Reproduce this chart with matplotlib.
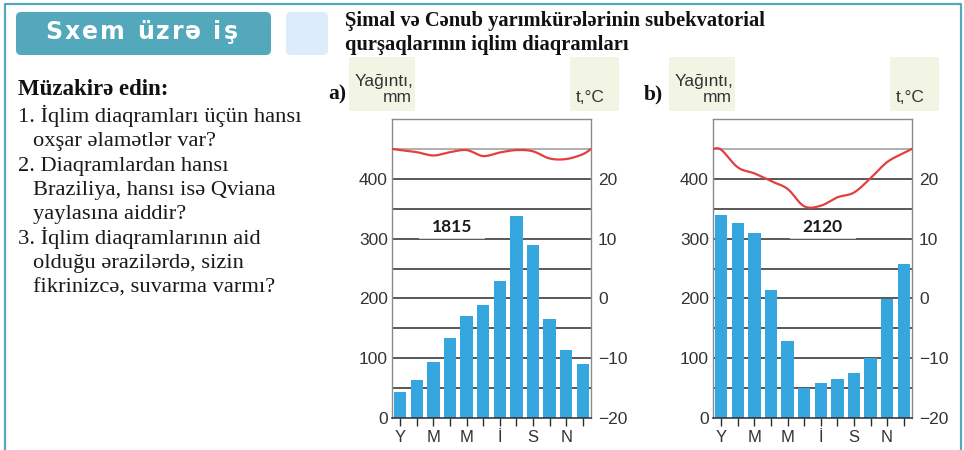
import numpy as np
import matplotlib
matplotlib.use('Agg')
import matplotlib.pyplot as plt
from matplotlib.patches import FancyBboxPatch, Rectangle
from matplotlib.lines import Line2D

# ---------------------------------------------------------------------------
# Data: monthly precipitation (mm) and temperature (°C)
# ---------------------------------------------------------------------------
month_labels = ['Y', 'M', 'M', 'İ', 'S', 'N']   # Jan, Mar, May, Jul, Sep, Nov

precip_a = [43, 64, 94, 134, 171, 189, 229, 337, 289, 166, 113, 91]
temp_a = [24.8, 24.45, 23.9, 24.45, 24.8, 23.8, 24.4, 24.8, 24.6, 23.4, 23.3, 24.1]
temp_a_edge = 25.0
total_a = '1815'

precip_b = [339, 326, 309, 214, 129, 50, 59, 66, 76, 101, 199, 257]
temp_b = [24.85, 21.9, 20.9, 19.6, 18.3, 15.4, 15.5, 16.9, 17.7, 20.1, 22.8, 24.3]
temp_b_edge = 25.0
total_b = '2120'

W, H = 964, 450
SERIF = ['Liberation Serif', 'DejaVu Serif']
SANS = ['Liberation Sans', 'DejaVu Sans']
TEAL = '#53a9bb'
BAR = '#35a7de'
RED = '#e1403f'
INK = '#333333'


def fx(x):
    return x / W


def fy(y):
    return 1 - y / H


def catmull_rom(px, py, steps=16):
    """Smooth curve through the given points (Catmull-Rom)."""
    P = np.column_stack([px, py]).astype(float)
    P = np.vstack([P[0], P, P[-1]])
    t = np.linspace(0, 1, steps, endpoint=False)[:, None]
    out = []
    for i in range(1, len(P) - 2):
        p0, p1, p2, p3 = P[i - 1], P[i], P[i + 1], P[i + 2]
        seg = 0.5 * (2 * p1 + (-p0 + p2) * t
                     + (2 * p0 - 5 * p1 + 4 * p2 - p3) * t ** 2
                     + (-p0 + 3 * p1 - 3 * p2 + p3) * t ** 3)
        out.append(seg)
    out.append(P[-2][None, :])
    arr = np.vstack(out)
    return arr[:, 0], arr[:, 1]


def box_px(fig, x0, y0, x1, y1, color, rounding=0.0):
    # rectangle given in pixel coords from the top-left corner
    style = f'round,pad=0,rounding_size={rounding}' if rounding else 'square,pad=0'
    p = FancyBboxPatch((x0 / 100, (H - y1) / 100), (x1 - x0) / 100, (y1 - y0) / 100,
                       boxstyle=style, transform=fig.dpi_scale_trans,
                       facecolor=color, edgecolor='none', zorder=0)
    fig.patches.append(p)


def spaced_text(fig, x, y, s, spacing, size, **kw):
    r = fig.canvas.get_renderer()
    for ch in s:
        if ch == ' ':
            x += size * 1.39 * 0.32 + spacing
            continue
        t = fig.text(fx(x), fy(y), ch, fontsize=size, **kw)
        x += t.get_window_extent(r).width + spacing


def climate_panel(fig, left_px, precip, temp, edge, total, box_x):
    ax = fig.add_axes([fx(left_px), fy(418), 199 / W, 299 / H])
    ax.set_xlim(0, 12)
    ax.set_ylim(0, 500)
    x = np.arange(12) + 0.5

    for lvl in range(50, 451, 50):
        ax.axhline(lvl, color='#9a9a9a' if lvl == 450 else '#2b2b2b', lw=1.1, zorder=1)
    ax.bar(x, precip, width=0.74, color=BAR, zorder=2)

    ax.add_patch(Rectangle((box_x[0], 300), box_x[1] - box_x[0], 42,
                           facecolor='white', alpha=0.75, edgecolor='none', zorder=1.5))
    ax.text(sum(box_x) / 2, 320, total, ha='center', va='center', fontsize=12.5,
            fontweight='bold', family=['Lato', 'DejaVu Sans'], color='#1a1a1a', zorder=3)

    for side in ('left', 'right', 'top'):
        ax.spines[side].set_color('#8a8a8a')
        ax.spines[side].set_linewidth(1.0)
    ax.spines['bottom'].set_color('#2b2b2b')
    ax.spines['bottom'].set_linewidth(1.1)

    ax.set_yticks(range(0, 401, 100))
    ax.tick_params(axis='y', length=0, pad=3, labelsize=12.5, labelcolor=INK)
    labels = [''] * 12
    labels[0::2] = month_labels
    ax.set_xticks(x)
    ax.set_xticklabels(labels)
    ax.tick_params(axis='x', length=6, width=1, color='#2b2b2b', pad=3,
                   labelsize=12, labelcolor=INK)

    tw = ax.twinx()
    tw.set_ylim(-20, 30)
    tw.set_yticks(range(-20, 21, 10))
    tw.tick_params(axis='y', length=0, pad=5, labelsize=12.5, labelcolor=INK)
    for s in tw.spines.values():
        s.set_visible(False)
    cx, cy = catmull_rom(np.r_[0, x, 12], np.r_[edge, temp, edge])
    tw.plot(cx, cy, color=RED, lw=1.6, zorder=3, solid_capstyle='round')
    for a in (ax, tw):
        for lab in a.get_xticklabels() + a.get_yticklabels():
            lab.set_family(SANS)
    return ax


fig = plt.figure(figsize=(W / 100, H / 100), dpi=100)
fig.patch.set_facecolor('white')

# outer frame (open at the bottom)
fig.add_artist(Line2D([fx(4.5), fx(4.5), fx(961), fx(961)],
                      [fy(450), fy(3.5), fy(3.5), fy(450)],
                      color=TEAL, lw=1.6, transform=fig.transFigure))

# header badge
box_px(fig, 16, 12, 271, 55, TEAL, rounding=0.05)
box_px(fig, 286, 12, 328, 55, '#dcecfa', rounding=0.05)
spaced_text(fig, 45, 39, 'Sxem üzrə iş', 2.2, 17, color='white',
            fontweight='bold', family=['DejaVu Sans'])

fig.text(fx(345), fy(26), 'Şimal və Cənub yarımkürələrinin subekvatorial',
         fontsize=14.8, fontweight='bold', family=SERIF, color='#111111')
fig.text(fx(345), fy(50), 'qurşaqlarının iqlim diaqramları',
         fontsize=14.8, fontweight='bold', family=SERIF, color='#111111')

# discussion questions
QS = 16.2
fig.text(fx(18), fy(95), 'Müzakirə edin:', fontsize=16.5, fontweight='bold',
         family=SERIF, color='#111111')
questions = [
    ('1.', 'İqlim diaqramları üçün hansı', 'oxşar əlamətlər var?', None),
    ('2.', 'Diaqramlardan hansı', 'Braziliya, hansı isə Qviana', 'yaylasına aiddir?'),
    ('3.', 'İqlim diaqramlarının aid', 'olduğu ərazilərdə, sizin', 'fikrinizcə, suvarma varmı?'),
]
y = 121.7
for num, *lines in questions:
    fig.text(fx(18), fy(y), num + ' ' + lines[0], fontsize=QS, family=SERIF, color='#1a1a1a')
    y += 24.4
    for ln in lines[1:]:
        if ln:
            fig.text(fx(33), fy(y), ln, fontsize=QS, family=SERIF, color='#1a1a1a')
            y += 24.4

# panel captions
for lx, tag in ((328, 'a)'), (644, 'b)')):
    fig.text(fx(lx), fy(99), tag, fontsize=15.5, fontweight='bold', family=SERIF,
             color='#111111')
for yl, tl in ((349, 570), (669, 890)):
    box_px(fig, yl, 57, yl + 66, 111, '#f2f5e4')
    box_px(fig, tl, 57, tl + 49, 111, '#f2f5e4')
    fig.text(fx(yl + 64), fy(86), 'Yağıntı,', ha='right', fontsize=12.5,
             family=SANS, color=INK)
    fig.text(fx(yl + 63), fy(102), 'mm', ha='right', fontsize=12.5,
             family=SANS, color=INK)
    fig.text(fx(tl + 6), fy(102), 't,°C', fontsize=12.5, family=SANS, color=INK)

climate_panel(fig, 392, precip_a, temp_a, temp_a_edge, total_a, (1.6, 5.6))
climate_panel(fig, 713, precip_b, temp_b, temp_b_edge, total_b, (4.65, 8.6))

fig.savefig('out.png', dpi=100)
